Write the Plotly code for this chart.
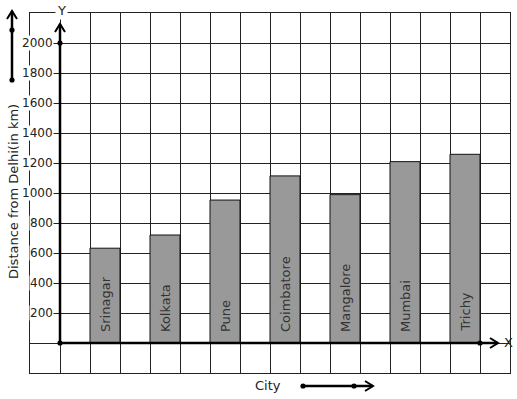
import plotly.graph_objects as go

# ---- data ----
cities = ["Srinagar", "Kolkata", "Pune", "Coimbatore", "Mangalore", "Mumbai", "Trichy"]
distances = [632, 720, 953, 1114, 989, 1209, 1258]
y_ticks = [200, 400, 600, 800, 1000, 1200, 1400, 1600, 1800, 2000]
x_title = "City"
y_title = "Distance from Delhi(in km)"

W, H = 517, 399
L, R, T, B = 30, 7, 13, 26
PW, PH = W - L - R, H - T - B
FONT = "DejaVu Sans"

def P(x, y):
    return (x - L) / PW, (H - B - y) / PH

positions = [1.5 + 2 * i for i in range(len(cities))]

fig = go.Figure()
fig.add_trace(go.Bar(
    x=positions, y=distances, width=1,
    marker=dict(color="#999999", line=dict(color="#111111", width=1)),
    hoverinfo="skip", showlegend=False,
))

annotations = []
for xp, c in zip(positions, cities):
    annotations.append(dict(x=xp, y=0, xref="x", yref="y", text=c, showarrow=False,
                            textangle=-90, xanchor="center", yanchor="bottom", yshift=9,
                            font=dict(family=FONT, size=13, color="#333333")))
for v in y_ticks:
    annotations.append(dict(x=0, y=v, xref="x", yref="y", text=str(v), showarrow=False,
                            xanchor="right", yanchor="middle", xshift=-6,
                            bgcolor="white", borderpad=0,
                            font=dict(family=FONT, size=12, color="#222222")))

def txt(x, y, s, angle=0, bg=None):
    px, py = P(x, y)
    d = dict(x=px, y=py, xref="paper", yref="paper", text=s, showarrow=False,
             textangle=angle, xanchor="center", yanchor="middle",
             font=dict(family=FONT, size=13, color="#222222"))
    if bg:
        d.update(bgcolor=bg, borderpad=1)
    return d

annotations.append(txt(13, 192, y_title, angle=-90))
annotations.append(txt(268, 385, x_title))
annotations.append(txt(508, 342, "X"))
annotations.append(txt(61, 10, "Y", bg="white"))

shapes = []
def path(pts, width=2.5):
    s = ""
    for i, (x, y) in enumerate(pts):
        px, py = P(x, y)
        s += ("M" if i == 0 else "L") + f"{px},{py} "
    shapes.append(dict(type="path", path=s, xref="paper", yref="paper",
                       line=dict(color="black", width=width), layer="above"))

def dot(x, y, r=2.6):
    px, py = P(x, y)
    shapes.append(dict(type="circle", xref="paper", yref="paper",
                       xsizemode="pixel", ysizemode="pixel", xanchor=px, yanchor=py,
                       x0=-r, x1=r, y0=-r, y1=r,
                       fillcolor="black", line=dict(color="black", width=0), layer="above"))

# axes with arrows
path([(60, 343), (60, 24)])
path([(55, 32), (60, 24), (65, 32)], 2)
path([(60, 343), (498, 343)])
path([(490, 338), (498, 343), (490, 348)], 2)
dot(60, 343); dot(60, 43); dot(480, 343)
# decorative arrows
path([(12, 80), (12, 11)])
path([(7, 19), (12, 11), (17, 19)], 2)
dot(12, 30); dot(12, 80)
path([(303, 386), (373, 386)])
path([(365, 381), (373, 386), (365, 391)], 2)
dot(303, 386); dot(354, 386)

fig.update_layout(
    width=W, height=H, margin=dict(l=L, r=R, t=T, b=B, pad=0),
    paper_bgcolor="white", plot_bgcolor="white",
    xaxis=dict(range=[-1, 15], tick0=0, dtick=1, showgrid=True, gridcolor="#222222",
               gridwidth=1, showticklabels=False, ticks="", zeroline=False,
               showline=True, mirror=True, linecolor="#222222", linewidth=1, fixedrange=True),
    yaxis=dict(range=[-200, 2200], tick0=0, dtick=200, showgrid=True, gridcolor="#222222",
               gridwidth=1, showticklabels=False, ticks="", zeroline=False,
               showline=True, mirror=True, linecolor="#222222", linewidth=1, fixedrange=True),
    annotations=annotations, shapes=shapes, bargap=0,
)
fig.write_html("out.html", config={"displayModeBar": False, "staticPlot": True},
               post_script="document.body.style.margin='0';document.body.style.overflow='hidden';")
